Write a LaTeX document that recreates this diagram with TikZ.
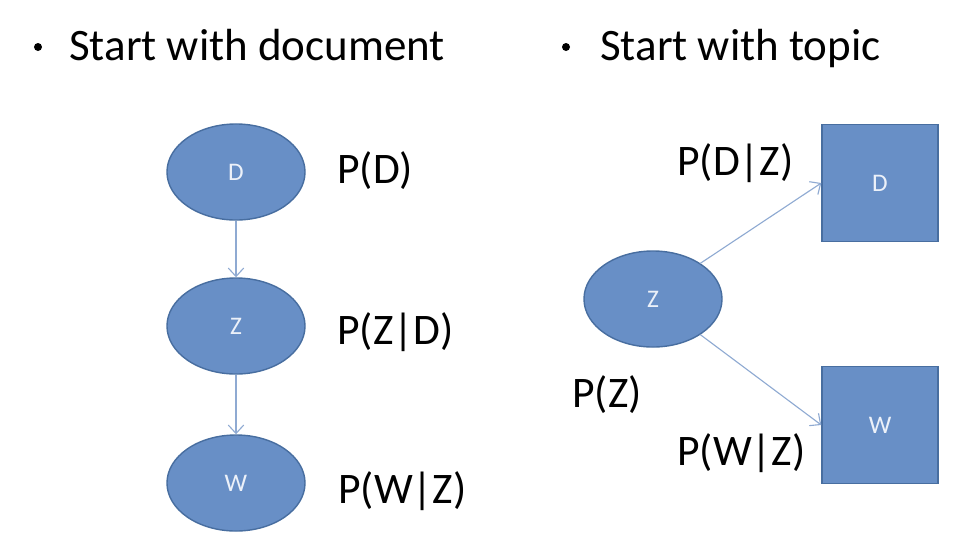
\documentclass[tikz,border=0pt]{standalone}
\usepackage{fontspec}
\setmainfont{Carlito}
\usetikzlibrary{shapes.geometric,arrows.meta}

\definecolor{nodefill}{RGB}{104,143,198}
\definecolor{nodeline}{RGB}{72,110,160}
\definecolor{linkcol}{RGB}{143,170,210}
\definecolor{nodetext}{RGB}{236,241,249}

\tikzset{
  bignode/.style={fill=nodefill, draw=nodeline, line width=1pt, text=nodetext,
    font=\fontsize{18}{20}\selectfont, inner sep=0pt},
  docnode/.style={bignode, ellipse, minimum width=3.45cm, minimum height=2.4cm},
  topicnode/.style={bignode, rectangle, minimum width=2.9cm, minimum height=2.92cm},
  prob/.style={anchor=base west, inner sep=0pt, font=\fontsize{31}{36}\selectfont},
  title/.style={prob, font=\fontsize{32}{38}\selectfont},
  bullet/.style={circle, fill=black, inner sep=0pt, minimum size=0.2cm},
  link/.style={draw=linkcol, line width=0.8pt, -{Straight Barb[length=6pt,width=11pt]}}
}

\begin{document}
\begin{tikzpicture}[x=0.025cm, y=-0.025cm]
    \useasboundingbox (0,0) rectangle (978,554);

    %titres
    \node[bullet] (bulletA) at (38,47) {};
    \node[title] (titleA) at (69,60) {Start with document};
    \node[bullet] (bulletB) at (566,47) {};
    \node[title] (titleB) at (600,60) {Start with topic};

    %document
    \node[docnode] (docD) at (236,172) {D};
    \node[docnode] (docZ) at (236,326) {Z};
    \node[docnode] (docW) at (236,483) {W};

    \draw[link] (docD) -- (docZ);
    \draw[link] (docZ) -- (docW);

    \node[prob] (pD) at (337,183) {P(D)};
    \node[prob] (pZD) at (337,344) {P(Z|D)};
    \node[prob] (pWZ) at (338,503) {P(W|Z)};

    %topic
    \node[docnode] (topZ) at (653,299) {Z};
    \node[topicnode] (topD) at (880,183) {D};
    \node[topicnode] (topW) at (880,425) {W};

    \draw[link] (topZ.37) -- (topD.west);
    \draw[link] (topZ.-37) -- (topW.west);

    \node[prob] (pDZ) at (677,175) {P(D|Z)};
    \node[prob] (pZ) at (572,407) {P(Z)};
    \node[prob] (pWZb) at (677,465) {P(W|Z)};

\end{tikzpicture}
\end{document}
